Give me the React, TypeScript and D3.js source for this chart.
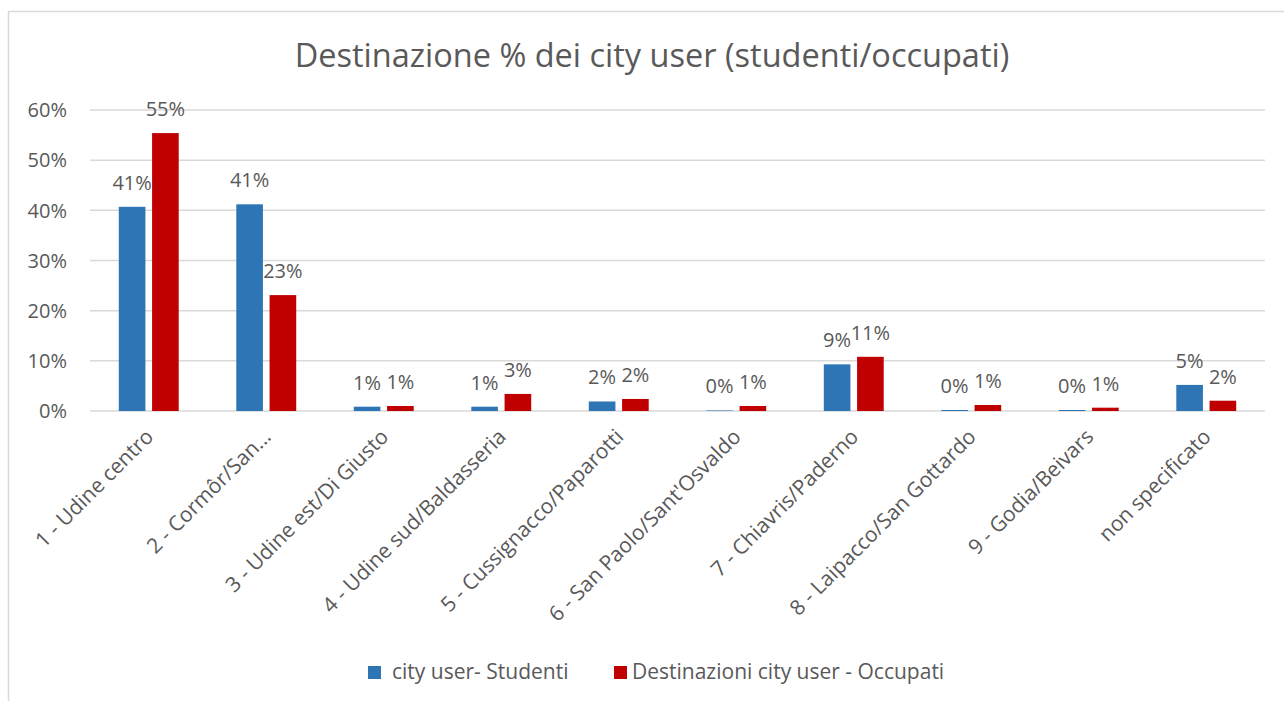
import React from 'react';
import * as d3 from 'd3';

const categories = [
  '1 - Udine centro',
  '2 - Cormôr/San...',
  '3 - Udine est/Di Giusto',
  '4 - Udine sud/Baldasseria',
  '5 - Cussignacco/Paparotti',
  "6 - San Paolo/Sant'Osvaldo",
  '7 - Chiavris/Paderno',
  '8 - Laipacco/San Gottardo',
  '9 - Godia/Beivars',
  'non specificato',
];

const studenti = [0.407, 0.412, 0.0086, 0.0086, 0.019, 0.001, 0.093, 0.002, 0.002, 0.052];
const occupati = [0.554, 0.231, 0.01, 0.034, 0.024, 0.01, 0.108, 0.012, 0.0066, 0.0205];

const seriesNames = ['city user- Studenti', 'Destinazioni city user - Occupati'];
const seriesColors = ['#2E75B6', '#C00000'];
const yTicks = [0, 0.1, 0.2, 0.3, 0.4, 0.5, 0.6];

const W = 1284;
const H = 701;
const textColor = '#595959';
const font = "'Open Sans', sans-serif";

const App = () => {
  const x = d3
    .scaleBand<string>()
    .domain(categories)
    .range([90, 1265])
    .paddingInner(0.49)
    .paddingOuter(0.245);
  const xs = d3
    .scaleBand<number>()
    .domain([0, 1])
    .range([0, x.bandwidth()])
    .paddingInner(0.2);
  const y = d3.scaleLinear().domain([0, 0.6]).range([411, 110]);
  const pct = d3.format('.0%');

  const series = [studenti, occupati];
  const step = x.step();

  return (
    <svg
      width={W}
      height={H}
      style={{ position: 'absolute', left: 0, top: 0, background: '#fff' }}
      fontFamily={font}
    >
      <rect x={8.5} y={11.5} width={1300} height={720} fill="#fff" stroke="#D9D9D9" strokeWidth={1.5} />

      <text x={652} y={67} textAnchor="middle" fontSize={32.5} fill={textColor}>
        Destinazione % dei city user (studenti/occupati)
      </text>

      {yTicks.map((t) => (
        <g key={t}>
          <line x1={90} x2={1265} y1={y(t)} y2={y(t)} stroke="#D9D9D9" strokeWidth={1.5} />
          <text x={67} y={y(t)} dy="0.36em" textAnchor="end" fontSize={20} fill={textColor}>
            {pct(t)}
          </text>
        </g>
      ))}

      {series.map((vals, si) =>
        vals.map((v, i) => {
          const bx = (x(categories[i]) as number) + (xs(si) as number);
          return (
            <g key={`${si}-${i}`}>
              <rect
                x={bx}
                y={y(v)}
                width={xs.bandwidth()}
                height={y(0) - y(v)}
                fill={seriesColors[si]}
              />
              <text
                x={bx + xs.bandwidth() / 2}
                y={y(v) - 17}
                textAnchor="middle"
                fontSize={20}
                fill={textColor}
              >
                {pct(v)}
              </text>
            </g>
          );
        })
      )}

      {categories.map((c) => {
        const cx = (x(c) as number) + x.bandwidth() / 2;
        return (
          <text
            key={c}
            transform={`translate(${cx + 6},438) rotate(-45)`}
            textAnchor="end"
            fontSize={21}
            fill={textColor}
          >
            {c}
          </text>
        );
      })}

      <g>
        <rect x={368} y={666} width={13} height={13} fill={seriesColors[0]} />
        <text x={392} y={679} fontSize={21} fill={textColor}>
          {seriesNames[0]}
        </text>
        <rect x={614} y={666} width={13} height={13} fill={seriesColors[1]} />
        <text x={632} y={679} fontSize={21} fill={textColor}>
          {seriesNames[1]}
        </text>
      </g>
    </svg>
  );
};

export default App;
